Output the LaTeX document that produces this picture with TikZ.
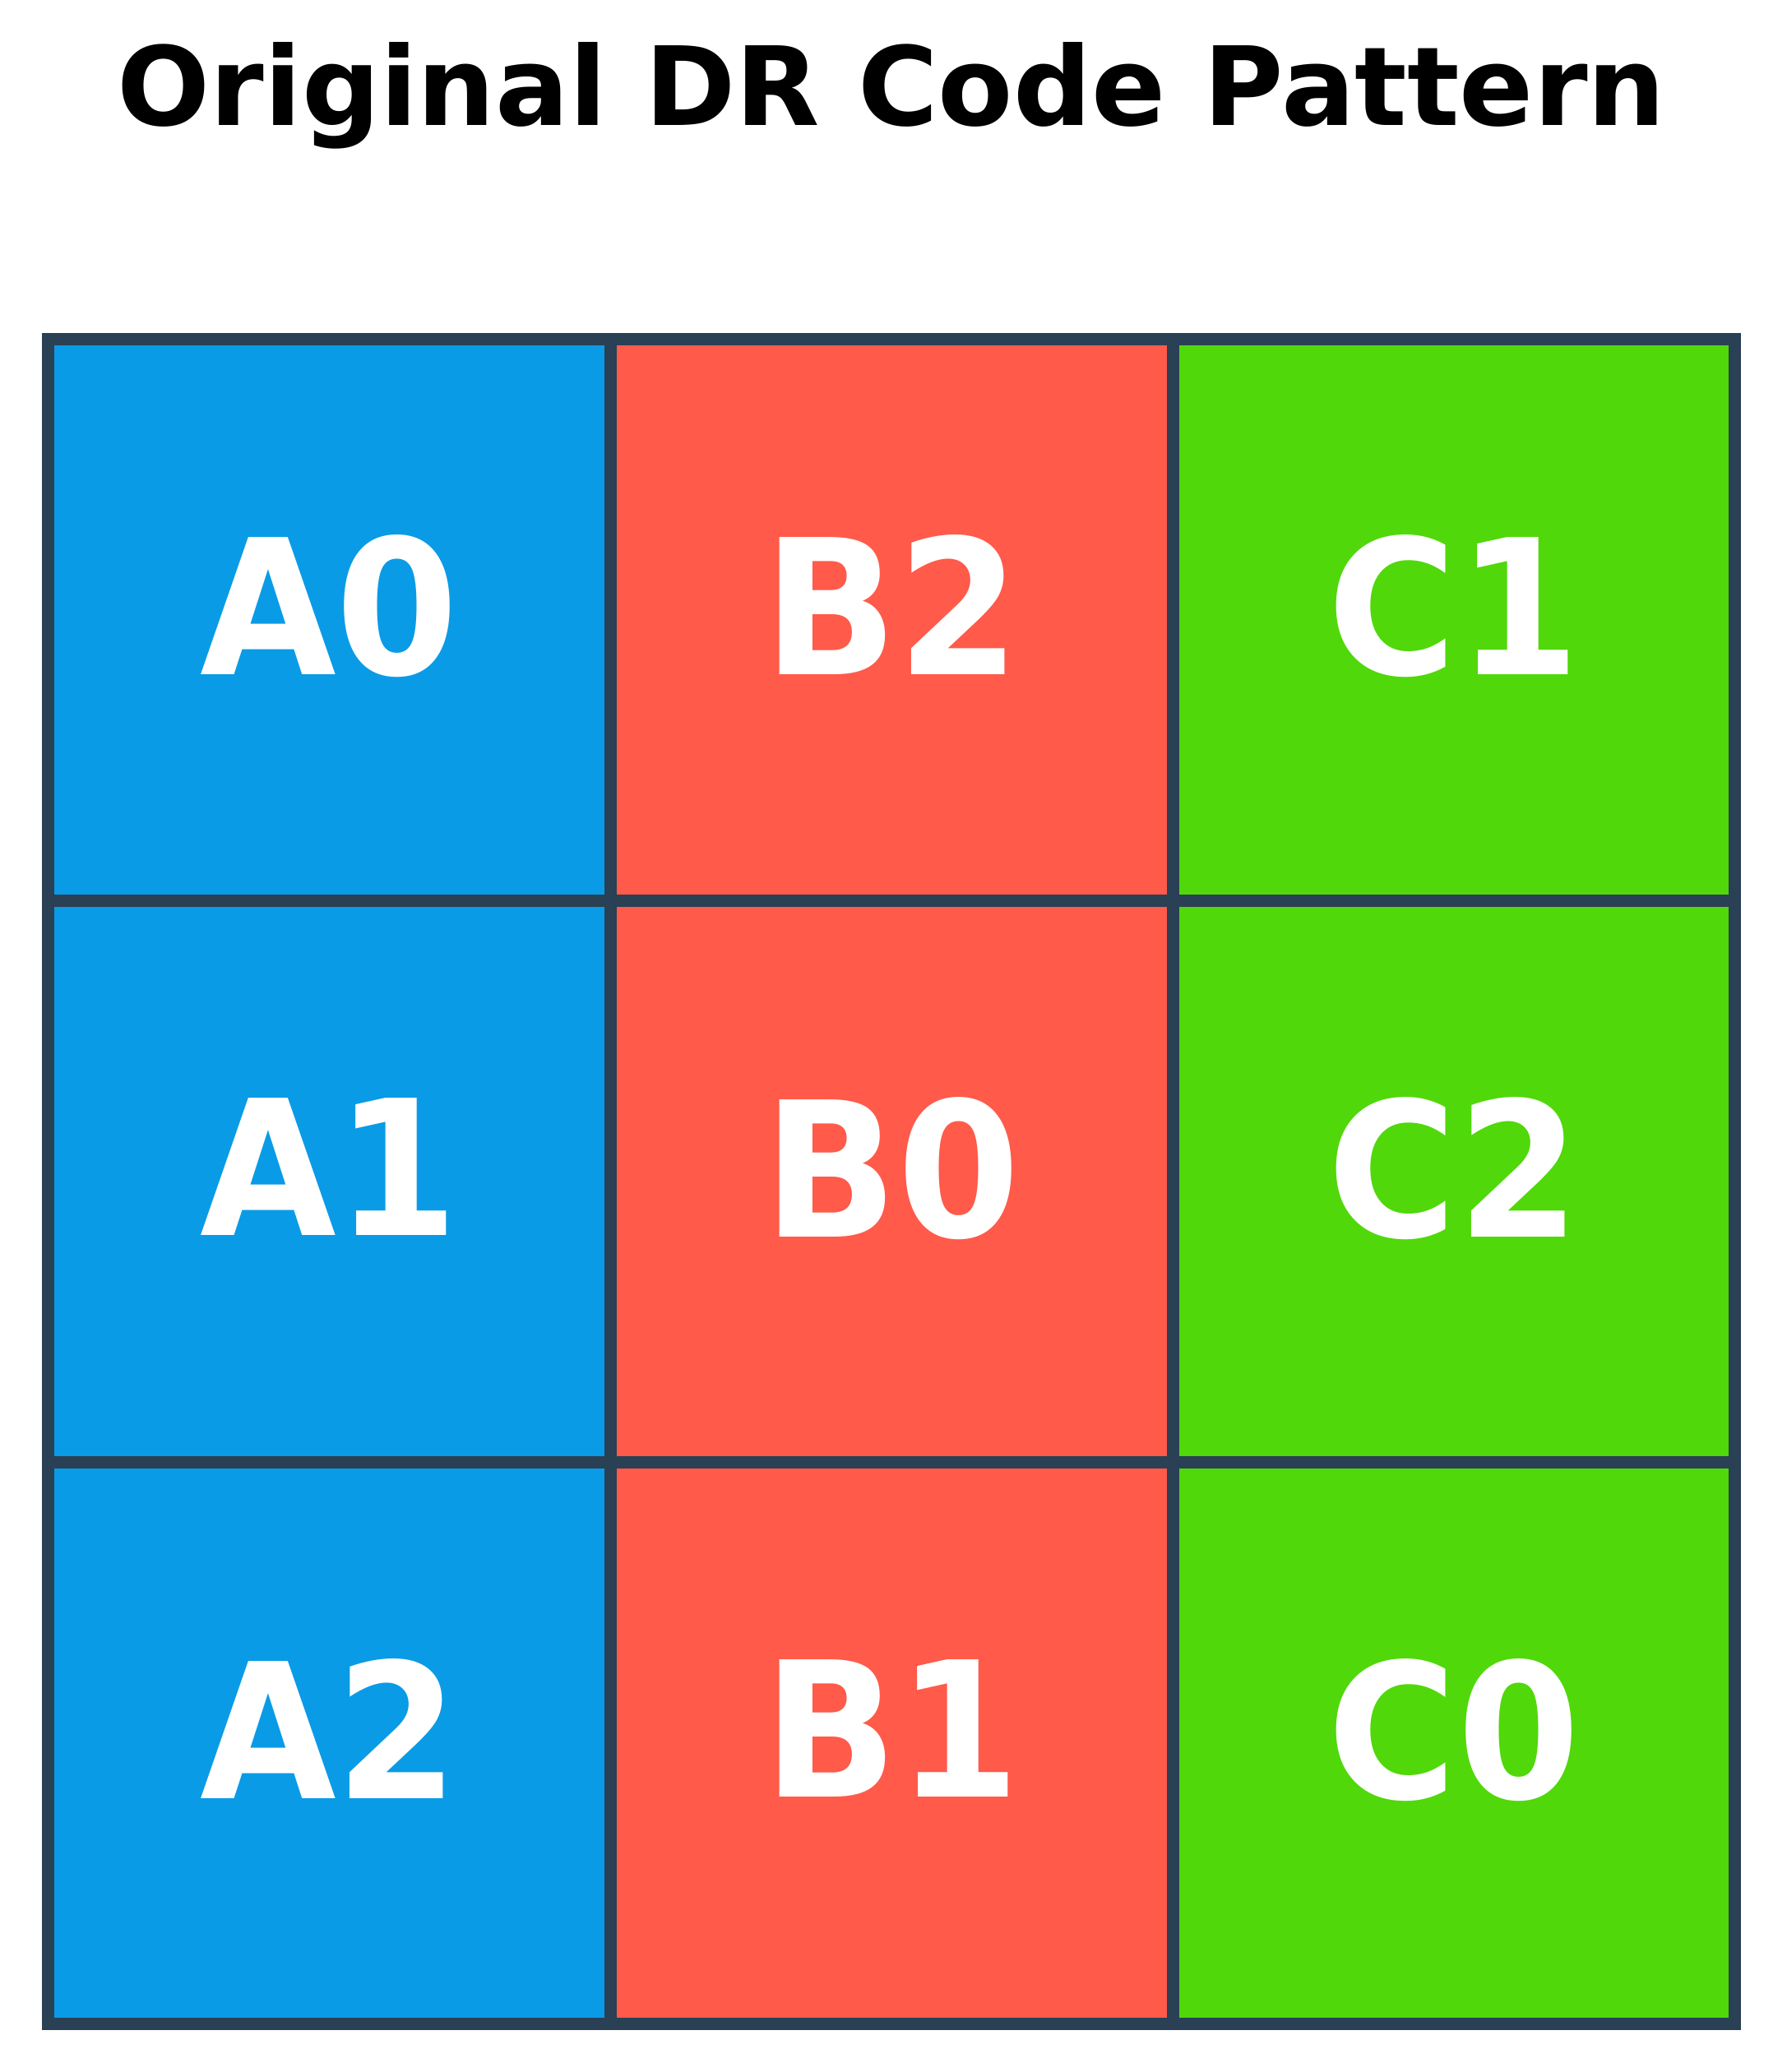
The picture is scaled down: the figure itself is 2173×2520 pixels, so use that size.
\documentclass[tikz,border=0pt]{standalone}
\usepackage{fontspec}
\setmainfont{DejaVu Sans}
\newfontfamily\cellfont[FakeStretch=0.935]{DejaVu Sans}
\definecolor{cellblue}{RGB}{10,155,230}
\definecolor{cellred}{RGB}{255,90,74}
\definecolor{cellgreen}{RGB}{80,216,10}
\definecolor{gridline}{RGB}{42,64,84}
\tikzset{
  cell/.style={draw=gridline, line width=15pt, minimum width=683.8pt, minimum height=683.3pt,
    inner sep=0pt, text=white, text depth=36pt,
    font=\cellfont\fontsize{229}{240}\selectfont\bfseries},
  titletext/.style={anchor=base, inner sep=0pt, font=\fontsize{133}{150}\selectfont\bfseries}
}
\begin{document}
\begin{tikzpicture}[x=1pt,y=-1pt]
\useasboundingbox[fill=white] (0,0) rectangle (2173,2520);
\node[titletext] (title) at (1084,152) {Original DR Code Pattern};
\node[cell, fill=cellblue]  (a0) at (400.4,753.7) {A0};
\node[cell, fill=cellred]   (b2) at (1084.2,753.7) {B2};
\node[cell, fill=cellgreen] (c1) at (1768.0,753.7) {C1};
\node[cell, fill=cellblue]  (a1) at (400.4,1437.0) {A1};
\node[cell, fill=cellred]   (b0) at (1084.2,1437.0) {B0};
\node[cell, fill=cellgreen] (c2) at (1768.0,1437.0) {C2};
\node[cell, fill=cellblue]  (a2) at (400.4,2120.3) {A2};
\node[cell, fill=cellred]   (b1) at (1084.2,2120.3) {B1};
\node[cell, fill=cellgreen] (c0) at (1768.0,2120.3) {C0};
\end{tikzpicture}
\end{document}
